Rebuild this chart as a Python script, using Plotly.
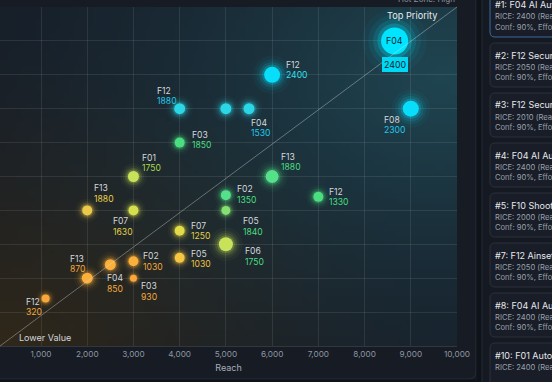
import base64, struct, zlib
import numpy as np
import plotly.graph_objects as go

# ---------------- data ----------------
names = ['F04', 'F12', 'F08', 'F12', 'F10', 'F04', 'F03', 'F01', 'F13', 'F12', 'F02',
         'F05', 'F06', 'F13', 'F07', 'F07', 'F05', 'F13', 'F04', 'F02', 'F03', 'F12']
reach = [8650, 6000, 9000, 4000, 5000, 5500, 4000, 3000, 6000, 7000, 5000,
         5000, 5000, 2000, 3000, 4000, 4000, 2500, 2000, 3000, 3000, 1100]
value = [9.0, 8.0, 7.0, 7.0, 7.0, 7.0, 6.0, 5.0, 5.0, 4.4, 4.45,
         4.0, 3.0, 4.0, 4.0, 3.4, 2.6, 2.4, 2.0, 2.5, 2.0, 1.4]
rice = [2400, 2400, 2300, 1880, None, 1530, 1850, 1750, 1880, 1330, 1350,
        1840, 1750, 1880, 1630, 1250, 1030, 870, 850, 1030, 930, 320]
bubble = [27, 16, 16, 11, 11, 11, 10, 11, 13, 10, 10,
          9, 14, 10, 10, 10, 10, 11, 11, 10, 7, 8]

x_ticks = [1000, 2000, 3000, 4000, 5000, 6000, 7000, 8000, 9000, 10000]
x_tick_text = ['1,000', '2,000', '3,000', '4,000', '5,000', '6,000', '7,000', '8,000', '9,000', '10,000']

cards_rank = ['#1', '#2', '#3', '#4', '#5', '#7', '#8', '#10']
cards_title = ['F04 AI Automation', 'F12 Security Audit', 'F12 Security Audit', 'F04 AI Automation',
               'F10 Shoot Planner', 'F12 Ainset Sync', 'F04 AI Automation', 'F01 Autonomous Flow']
cards_rice = [2400, 2050, 2010, 2400, 2000, 2050, 2400, 2400]
cards_conf = [90, 90, 90, 90, 90, 90, 90, None]

# ---------------- styles ----------------
point_colors = ['#00e5ff', '#08def9', '#08def9', '#2bd6e6', '#2bd6e6', '#2bd6e6', '#4ade80',
                '#c8e35a', '#55e08a', '#4ade80', '#55e08a', '#86e071', '#c8e35a', '#ecc94b',
                '#d6e04e', '#e2dc48', '#f4c642', '#fbb03b', '#fbb03b', '#fbb03b', '#f9a73a', '#f9a73a']
value_colors = ['#0a2a33', '#2ee0f0', '#22c8ea', '#22c8ea', '#22c8ea', '#22c8ea', '#4ade80',
                '#a8d94e', '#4ade80', '#4ade80', '#4ade80', '#4ade80', '#4ade80', '#e8cf4a',
                '#e0d248', '#e0d248', '#f0c444', '#f5a93a', '#f5a93a', '#f5a93a', '#f5a93a', '#f5a93a']
# (dx to label left edge, dy of name centre) in px; None = no label
label_offsets = [None, (12, -10), (-29, 11), (-25, -18), None, (0, 14), (10, -8), (7, -19),
                 (7, -20), (9, -5), (9, -6), (15, 11), (17, 7), (5, -22), (-22, 11), (9, -5),
                 (9, -4), (-42, -6), (18, 0), (8, -5), (6, 8), (-22, 3)]

FONT = 'Inter'
W, H = 552, 382
PL, PR, PT, PB = 0, 457, 7, 346


def pxx(px):
    return (px - PL) / (PR - PL)


def pxy(py):
    return (PB - py) / (PB - PT)


def png_uri(arr):
    h, w, _ = arr.shape
    raw = b''.join(b'\x00' + arr[r].tobytes() for r in range(h))

    def chunk(tag, data):
        return struct.pack('>I', len(data)) + tag + data + struct.pack('>I', zlib.crc32(tag + data) & 0xffffffff)
    png = (b'\x89PNG\r\n\x1a\n' + chunk(b'IHDR', struct.pack('>IIBBBBB', w, h, 8, 2, 0, 0, 0))
           + chunk(b'IDAT', zlib.compress(raw, 9)) + chunk(b'IEND', b''))
    return 'data:image/png;base64,' + base64.b64encode(png).decode()


def hexrgb(h):
    h = h.lstrip('#')
    return np.array([int(h[i:i + 2], 16) for i in (0, 2, 4)], dtype=float)


# gradient background for plot area
gw, gh = 96, 72
u = np.linspace(0, 1, gw)[None, :]
v = np.linspace(1, 0, gh)[:, None]
base = hexrgb('#171d27')
teal = hexrgb('#1f4652')
brown = hexrgb('#30281a')
dt = np.sqrt((u - 0.97) ** 2 + (v - 0.8) ** 2)
wt = np.clip(1 - dt / 1.15, 0, 1) ** 1.5
do = np.sqrt((u - 0.0) ** 2 + (v - 0.0) ** 2)
wo = np.clip(1 - do / 0.95, 0, 1) ** 1.4
img = base[None, None, :] + wt[..., None] * (teal - base) + wo[..., None] * (brown - base)
img = np.clip(img, 0, 255).astype(np.uint8)

fig = go.Figure()

# soft glow layers
for scale, op in [(2.4, 0.04), (1.95, 0.07), (1.6, 0.13), (1.28, 0.24)]:
    fig.add_trace(go.Scatter(
        x=reach, y=value, mode='markers', hoverinfo='skip', showlegend=False,
        marker=dict(size=[s * scale for s in bubble], color=point_colors, opacity=op, line=dict(width=0))))
fig.add_trace(go.Scatter(
    x=reach, y=value, mode='markers', showlegend=False, text=names,
    marker=dict(size=bubble, color=point_colors, opacity=1, line=dict(width=0))))

annotations = []
LBL = 8.6
for i, off in enumerate(label_offsets):
    if off is None:
        continue
    dx, dy = off
    annotations.append(dict(x=reach[i], y=value[i], xref='x', yref='y', text=names[i], showarrow=False,
                            xanchor='left', yanchor='middle', xshift=dx, yshift=-dy,
                            font=dict(family=FONT, size=LBL, color='#d3d7dd')))
    annotations.append(dict(x=reach[i], y=value[i], xref='x', yref='y', text=str(rice[i]), showarrow=False,
                            xanchor='left', yanchor='middle', xshift=dx, yshift=-(dy + 10.5),
                            font=dict(family=FONT, size=LBL, color=value_colors[i])))

# top bubble label + badge
annotations.append(dict(x=reach[0], y=value[0], xref='x', yref='y', text=names[0], showarrow=False,
                        xanchor='center', yanchor='middle', font=dict(family=FONT, size=8.8, color='#0a2530')))
annotations.append(dict(x=reach[0], y=value[0], xref='x', yref='y', text=str(rice[0]), showarrow=False,
                        xanchor='center', yanchor='middle', yshift=-24, bgcolor='#00d9f5', borderpad=1,
                        bordercolor='#00d9f5', borderwidth=1,
                        font=dict(family=FONT, size=8.8, color='#0a2530')))

annotations += [
    dict(x=pxx(412), y=pxy(15), xref='paper', yref='paper', text='Top Priority', showarrow=False,
         xanchor='center', yanchor='middle', font=dict(family=FONT, size=9.2, color='#e8eaed')),
    dict(x=pxx(45), y=pxy(337), xref='paper', yref='paper', text='Lower Value', showarrow=False,
         xanchor='center', yanchor='middle', font=dict(family=FONT, size=9, color='#d3d6db')),
    dict(x=pxx(457), y=pxy(-1), xref='paper', yref='paper', text='Hot Zone: High', showarrow=False,
         xanchor='right', yanchor='middle', font=dict(family=FONT, size=8, color='#8b93a0')),
]

shapes = []


def rrect(x0, y0, x1, y1, r, fill, line, lw=1):
    rx = r / (PR - PL)
    ry = r / (PB - PT)
    a, b, c, d = pxx(x0), pxy(y0), pxx(x1), pxy(y1)
    path = (f'M {a + rx},{b} L {c - rx},{b} Q {c},{b} {c},{b - ry} L {c},{d + ry} Q {c},{d} {c - rx},{d} '
            f'L {a + rx},{d} Q {a},{d} {a},{d + ry} L {a},{b - ry} Q {a},{b} {a + rx},{b} Z')
    shapes.append(dict(type='path', path=path, xref='paper', yref='paper', layer='below',
                       fillcolor=fill, line=dict(color=line, width=lw)))


# chart panel border (no fill so gradient image stays visible)
rrect(-12, -12, 476, 379, 8, 'rgba(0,0,0,0)', '#272e3a')
# gap and right panel
shapes.append(dict(type='rect', xref='paper', yref='paper', x0=pxx(476.5), x1=pxx(620), y0=pxy(-20), y1=pxy(400),
                   fillcolor='#0f1319', line=dict(width=0), layer='below'))
shapes.append(dict(type='rect', xref='paper', yref='paper', x0=pxx(-20), x1=pxx(476), y0=pxy(379.5), y1=pxy(400),
                   fillcolor='#0f1319', line=dict(width=0), layer='below'))
rrect(482, -12, 620, 400, 8, '#141922', '#252b36')

card_tops = [-7, 43, 93, 143, 193, 243, 293, 343]
for k in range(len(cards_rank)):
    top = card_tops[k]
    bottom = top + 44
    border = '#3a6b9c' if k == 0 else '#2a313d'
    rrect(490, top, 600, bottom, 5, '#181d27', border)
    annotations.append(dict(x=pxx(493), y=pxy(top + 12), xref='paper', yref='paper',
                            text=f'{cards_rank[k]}: {cards_title[k]}', showarrow=False, xanchor='left',
                            yanchor='middle', font=dict(family=FONT, size=9, color='#e6e8ec')))
    annotations.append(dict(x=pxx(493), y=pxy(top + 24), xref='paper', yref='paper',
                            text=f'RICE: {cards_rice[k]} (Reach x Impact)', showarrow=False, xanchor='left',
                            yanchor='middle', font=dict(family=FONT, size=7.6, color='#9aa1ac')))
    if cards_conf[k] is not None:
        annotations.append(dict(x=pxx(493), y=pxy(top + 34), xref='paper', yref='paper',
                                text=f'Conf: {cards_conf[k]}%, Effort: 2w', showarrow=False, xanchor='left',
                                yanchor='middle', font=dict(family=FONT, size=7.6, color='#9aa1ac')))

# diagonal
shapes.append(dict(type='line', xref='x domain', yref='y domain', x0=0, y0=0, x1=1, y1=1,
                   line=dict(color='rgba(220,225,235,0.38)', width=1), layer='above'))

fig.update_layout(
    width=W, height=H, margin=dict(l=PL, r=W - PR, t=PT, b=H - PB),
    paper_bgcolor='#161b24', plot_bgcolor='rgba(0,0,0,0)',
    font=dict(family=FONT, color='#9aa1ac'),
    showlegend=False, hovermode='closest',
    annotations=annotations, shapes=shapes,
    images=[dict(source=png_uri(img), xref='paper', yref='paper', x=0, y=1, sizex=1, sizey=1,
                 sizing='stretch', layer='below', xanchor='left', yanchor='top')],
    xaxis=dict(range=[113, 10000], tickvals=x_ticks, ticktext=x_tick_text, showgrid=True,
               gridcolor='rgba(255,255,255,0.09)', gridwidth=1, zeroline=False, showline=True,
               linecolor='rgba(255,255,255,0.12)', ticks='', tickfont=dict(size=8.2, color='#8f97a3'),
               title=dict(text='Reach', font=dict(size=9, color='#a9afb9'), standoff=6)),
    yaxis=dict(range=[0, 10], dtick=1, showgrid=True, gridcolor='rgba(255,255,255,0.09)', gridwidth=1,
               zeroline=False, showticklabels=False, ticks='', showline=False),
)

fig.write_html('out.html')
